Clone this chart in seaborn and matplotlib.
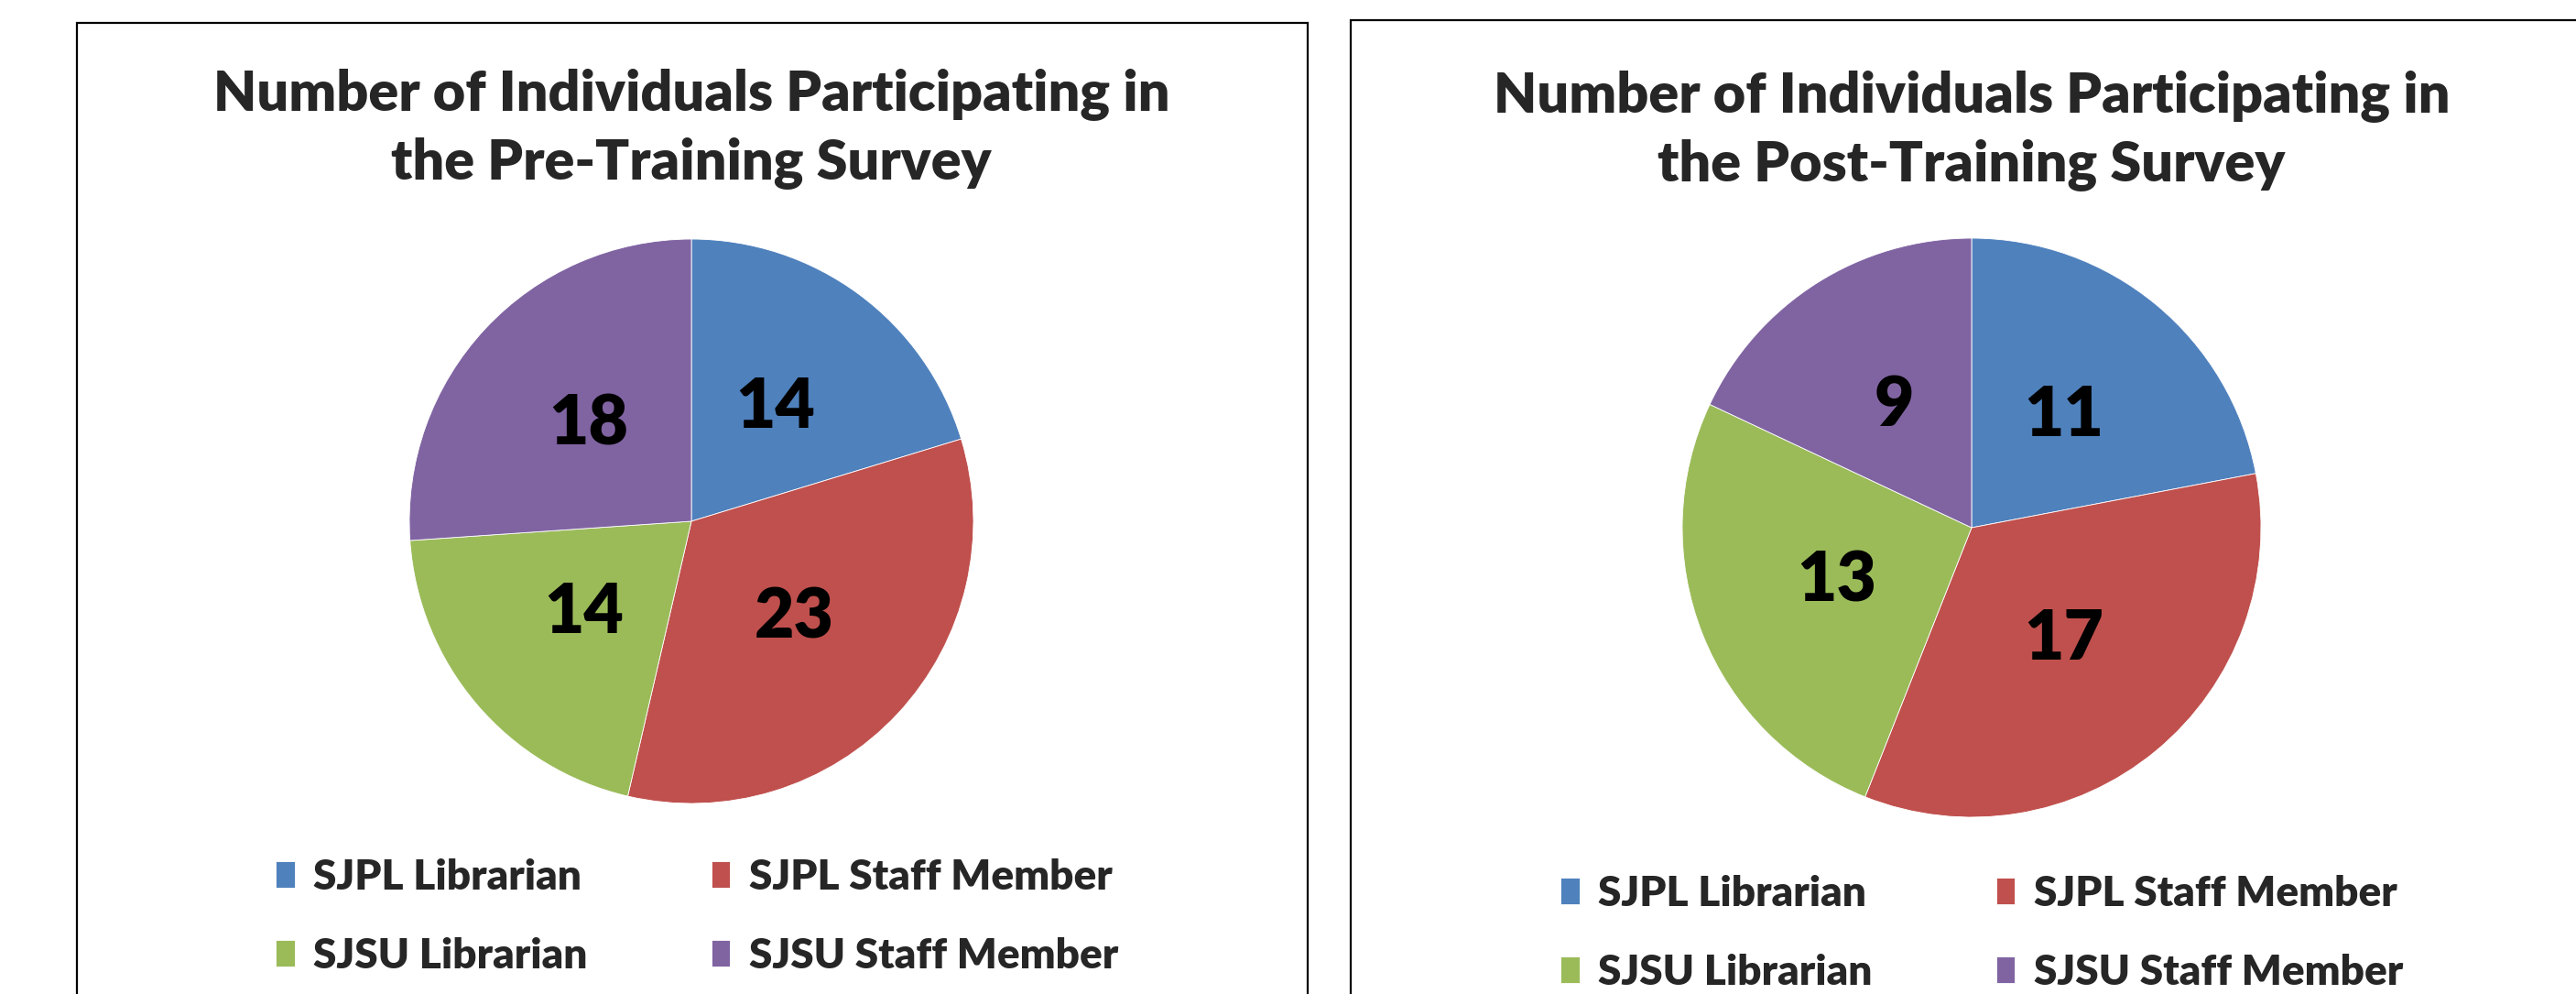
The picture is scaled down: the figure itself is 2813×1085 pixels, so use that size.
"""
Two Excel-style pie charts: survey participation before and after training.
"""

import matplotlib
matplotlib.use("Agg")
import matplotlib.pyplot as plt
from matplotlib.patches import Rectangle
import seaborn as sns

categories = ["SJPL Librarian", "SJPL Staff Member", "SJSU Librarian", "SJSU Staff Member"]
pre_counts = [14, 23, 14, 18]
post_counts = [11, 17, 13, 9]
titles = [
    "Number of Individuals Participating in\nthe Pre-Training Survey",
    "Number of Individuals Participating in\nthe Post-Training Survey",
]

sns.set_theme(style="white")
plt.rcParams["font.family"] = ["Lato", "DejaVu Sans"]
palette = sns.color_palette(["#4F81BD", "#C0504D", "#9BBB59", "#8064A2"])

W, H = 2813, 1085
fig = plt.figure(figsize=(W / 100, H / 100), dpi=100)
fig.patch.set_facecolor("white")


def fx(px):
    return px / W


def fy(py):
    return 1 - py / H


# panel frames (each runs off the bottom / right of the image)
for x0, x1, top in [(84, 1428, 25), (1475, 2900, 22)]:
    fig.patches.append(Rectangle((fx(x0), fy(1200)), fx(x1 - x0), (1200 - top) / H,
                                 transform=fig.transFigure, fill=False,
                                 edgecolor="black", linewidth=1.6))

panels = [
    # values, center x, center y, radius, title, title y, legend anchor
    (pre_counts, 755, 569, 308, titles[0], 140, (278, 914)),
    (post_counts, 2153, 576, 316, titles[1], 142, (1681, 932)),
]

# Excel fills the legend row by row; matplotlib fills column by column
order = [0, 2, 1, 3]

for counts, cx, cy, r, title, ty, (lx, ly) in panels:
    ax = fig.add_axes([fx(cx - r), fy(cy + r), fx(2 * r), 2 * r / H])
    total = sum(counts)
    wedges, _, autotexts = ax.pie(
        counts,
        colors=palette,
        startangle=90,
        counterclock=False,
        autopct=lambda p, t=total: f"{round(p * t / 100)}",
        pctdistance=0.5,
        wedgeprops={"linewidth": 0.6, "edgecolor": "white"},
        textprops={"fontsize": 54, "fontweight": "heavy", "color": "black"},
    )
    ax.set_xlim(-1, 1)
    ax.set_ylim(-1, 1)
    ax.axis("off")

    fig.text(fx(cx), fy(ty), title, ha="center", va="center",
             fontsize=44, fontweight="heavy", linespacing=1.38)

    fig.legend([wedges[i] for i in order], [categories[i] for i in order],
               ncol=2, loc="upper left",
               bbox_to_anchor=(fx(lx), fy(ly)), frameon=False,
               prop={"size": 33, "weight": "heavy"},
               handlelength=0.45, handleheight=0.6, handletextpad=0.45,
               columnspacing=2.95, labelspacing=0.98, borderpad=0)

fig.savefig("out.png", dpi=100)
